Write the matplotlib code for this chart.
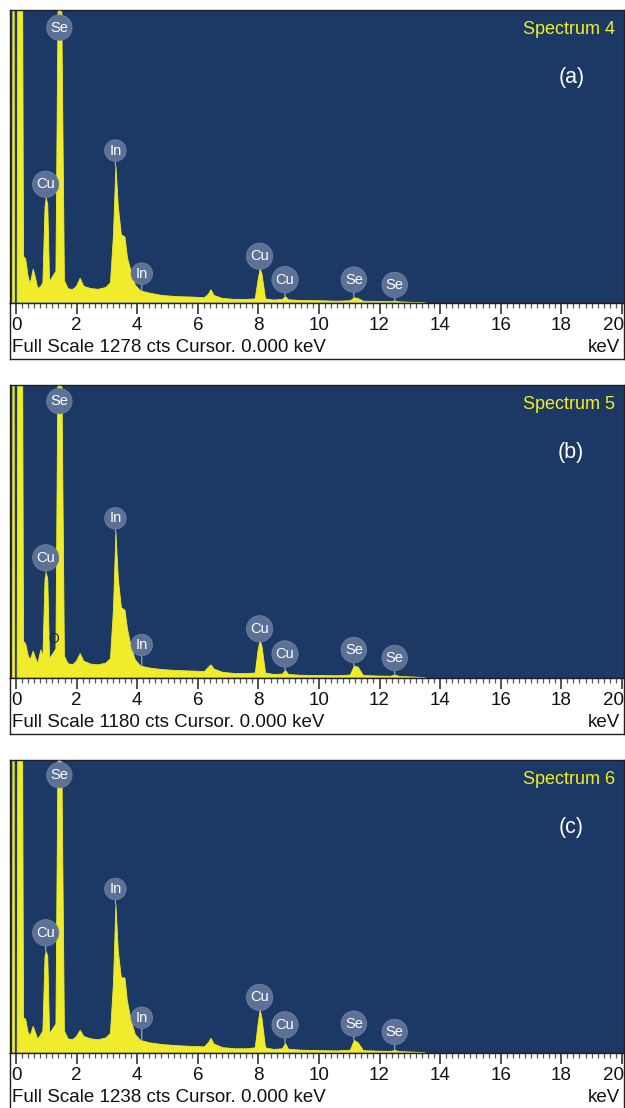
import numpy as np
import matplotlib
matplotlib.use('Agg')
from matplotlib import pyplot as plt
from matplotlib.transforms import blended_transform_factory

plt.rcParams['font.family'] = ['Liberation Sans', 'DejaVu Sans']

# energy grid (keV) shared by the three spectra
energy = [-0.2, -0.13, -0.12, -0.08, -0.07, 0.02, 0.04, 0.2, 0.23, 0.3, 0.38, 0.45, 0.55, 0.62,
          0.7, 0.8, 0.87, 0.94, 0.98, 1.03, 1.09, 1.2, 1.3, 1.37, 1.49, 1.58, 1.7, 1.85, 1.98,
          2.1, 2.22, 2.45, 2.7, 2.95, 3.1, 3.2, 3.28, 3.36, 3.46, 3.58, 3.66, 3.78, 3.92, 4.1,
          4.4, 4.8, 5.3, 5.8, 6.2, 6.33, 6.42, 6.52, 6.8, 7.2, 7.6, 7.88, 7.97, 8.04, 8.1, 8.22,
          8.5, 8.78, 8.88, 8.98, 9.4, 10.0, 10.6, 11.02, 11.15, 11.28, 11.45, 11.9, 12.35, 12.5,
          12.65, 13.1, 13.45, 13.55, 20.2]

counts_4 = [0, 0, 1400, 1400, 0, 0, 1400, 1400, 205, 195, 120, 85, 150, 115,
            65, 75, 90, 420, 460, 430, 95, 120, 140, 1300, 1300, 100, 65, 60, 75,
            110, 75, 65, 62, 70, 90, 300, 600, 420, 300, 290, 200, 140, 80, 55,
            45, 35, 30, 28, 25, 40, 60, 35, 22, 18, 18, 20, 100, 150, 130, 20,
            15, 18, 30, 16, 13, 12, 10, 12, 25, 22, 10, 9, 8, 11,
            7, 5, 4, 0, 0]

counts_5 = [0, 0, 1300, 1300, 0, 0, 1300, 1300, 150, 140, 95, 75, 110, 85,
            60, 115, 90, 400, 425, 400, 80, 100, 120, 1300, 1300, 90, 60, 55, 70,
            100, 70, 58, 55, 62, 80, 280, 590, 400, 285, 275, 200, 130, 75, 50,
            42, 36, 32, 30, 28, 45, 55, 38, 25, 20, 20, 22, 110, 154, 130, 22,
            16, 18, 32, 16, 13, 12, 11, 14, 50, 45, 12, 10, 9, 14,
            8, 6, 4, 0, 0]

counts_6 = [0, 0, 1300, 1300, 0, 0, 1300, 1300, 150, 145, 90, 75, 115, 90,
            60, 80, 95, 410, 430, 410, 85, 105, 125, 1300, 1300, 95, 62, 58, 72,
            98, 72, 62, 58, 66, 85, 300, 629, 430, 320, 319, 220, 140, 80, 55,
            45, 38, 33, 30, 28, 45, 64, 40, 25, 20, 20, 24, 120, 183, 150, 24,
            17, 20, 42, 18, 14, 12, 11, 14, 55, 45, 12, 10, 9, 13,
            8, 6, 4, 0, 0]

spectra = [counts_4, counts_5, counts_6]
full_scale = [1278, 1180, 1238]
spectrum_names = ['Spectrum 4', 'Spectrum 5', 'Spectrum 6']
panel_tags = ['(a)', '(b)', '(c)']

# peak labels
label_names = ['Se', 'Cu', 'In', 'In', 'Cu', 'Cu', 'Se', 'Se']
label_energy = [1.43, 0.98, 3.28, 4.15, 8.04, 8.88, 11.15, 12.5]
label_level = [[1201, 518, 665, 128, 204, 102, 102, 79],
               [1115, 484, 643, 133, 198, 97, 113, 81],
               [1174, 508, 693, 149, 235, 119, 124, 89]]

tick_values = list(range(0, 21, 2))

W, H = 625, 1108
navy = '#1c3864'
yellow = '#f0ec2c'

fig = plt.figure(figsize=(W / 100, H / 100), dpi=100)
fig.patch.set_facecolor('white')


def box(x0, y0, x1, y1):
    return [x0 / W, 1 - y1 / H, (x1 - x0) / W, (y1 - y0) / H]


tops = [10, 385, 760]
for i in range(3):
    top = tops[i]
    base = top + 293
    bottom = base + 56
    fs = full_scale[i]

    ax = fig.add_axes(box(10, top, 624, base))
    ax.set_facecolor(navy)
    ax.fill_between(energy, spectra[i], 0, color=yellow, lw=0.6, edgecolor=yellow)
    ax.set_xlim(-0.2, 20.07)
    ax.set_ylim(0, fs)
    ax.set_xticks([])
    ax.set_yticks([])
    for s in ax.spines.values():
        s.set_color('#202020')
        s.set_linewidth(1)

    for name, e, lvl in zip(label_names, label_energy, label_level[i]):
        peak = np.interp(e, energy, spectra[i])
        ax.annotate(name, xy=(e, min(peak, fs)), xytext=(e, lvl),
                    ha='center', va='center', color='white', fontsize=10.5,
                    bbox=dict(boxstyle='circle,pad=0.26', fc='#5d7197', ec='#7486a8', lw=0.5),
                    arrowprops=dict(arrowstyle='-', color='#9fb2d0', lw=0.8,
                                    shrinkA=0, shrinkB=0))

    ax.text(0.985, 0.932, spectrum_names[i], transform=ax.transAxes,
            ha='right', va='center', color='#f4ef1c', fontsize=13)
    ax.text(0.914, 0.768, panel_tags[i], transform=ax.transAxes,
            ha='center', va='center', color='white', fontsize=15.5)
    if i == 1:
        ax.text(1.26, 158, 'O', ha='center', va='center', color='#1a2238', fontsize=10)

    sx = fig.add_axes(box(10, base, 624, bottom))
    sx.set_facecolor('white')
    sx.set_xlim(-0.2, 20.07)
    sx.set_ylim(0, 1)
    sx.set_yticks([])
    sx.xaxis.tick_top()
    sx.set_xticks(tick_values)
    sx.set_xticks(np.arange(0, 20.01, 0.2), minor=True)
    sx.tick_params(axis='x', which='major', direction='in', length=8, width=1.2,
                   color='#333333', labeltop=False)
    sx.tick_params(axis='x', which='minor', direction='in', length=3.5, width=0.9,
                   color='#555555')
    for s in sx.spines.values():
        s.set_color('#202020')
        s.set_linewidth(1)
    trans = blended_transform_factory(sx.transData, sx.transAxes)
    for v in tick_values:
        ha = 'right' if v == 20 else 'center'
        xv = 20.07 if v == 20 else v
        sx.text(xv, 0.6, str(v), transform=trans, ha=ha, va='center',
                fontsize=13.5, color='#111111')
    sx.text(0.004, 0.2, 'Full Scale %d cts Cursor. 0.000 keV' % fs, transform=sx.transAxes,
            ha='left', va='center', fontsize=13.5, color='#111111')
    sx.text(0.993, 0.2, 'keV', transform=sx.transAxes,
            ha='right', va='center', fontsize=13.5, color='#111111')

fig.savefig('out.png', dpi=100, facecolor='white')
